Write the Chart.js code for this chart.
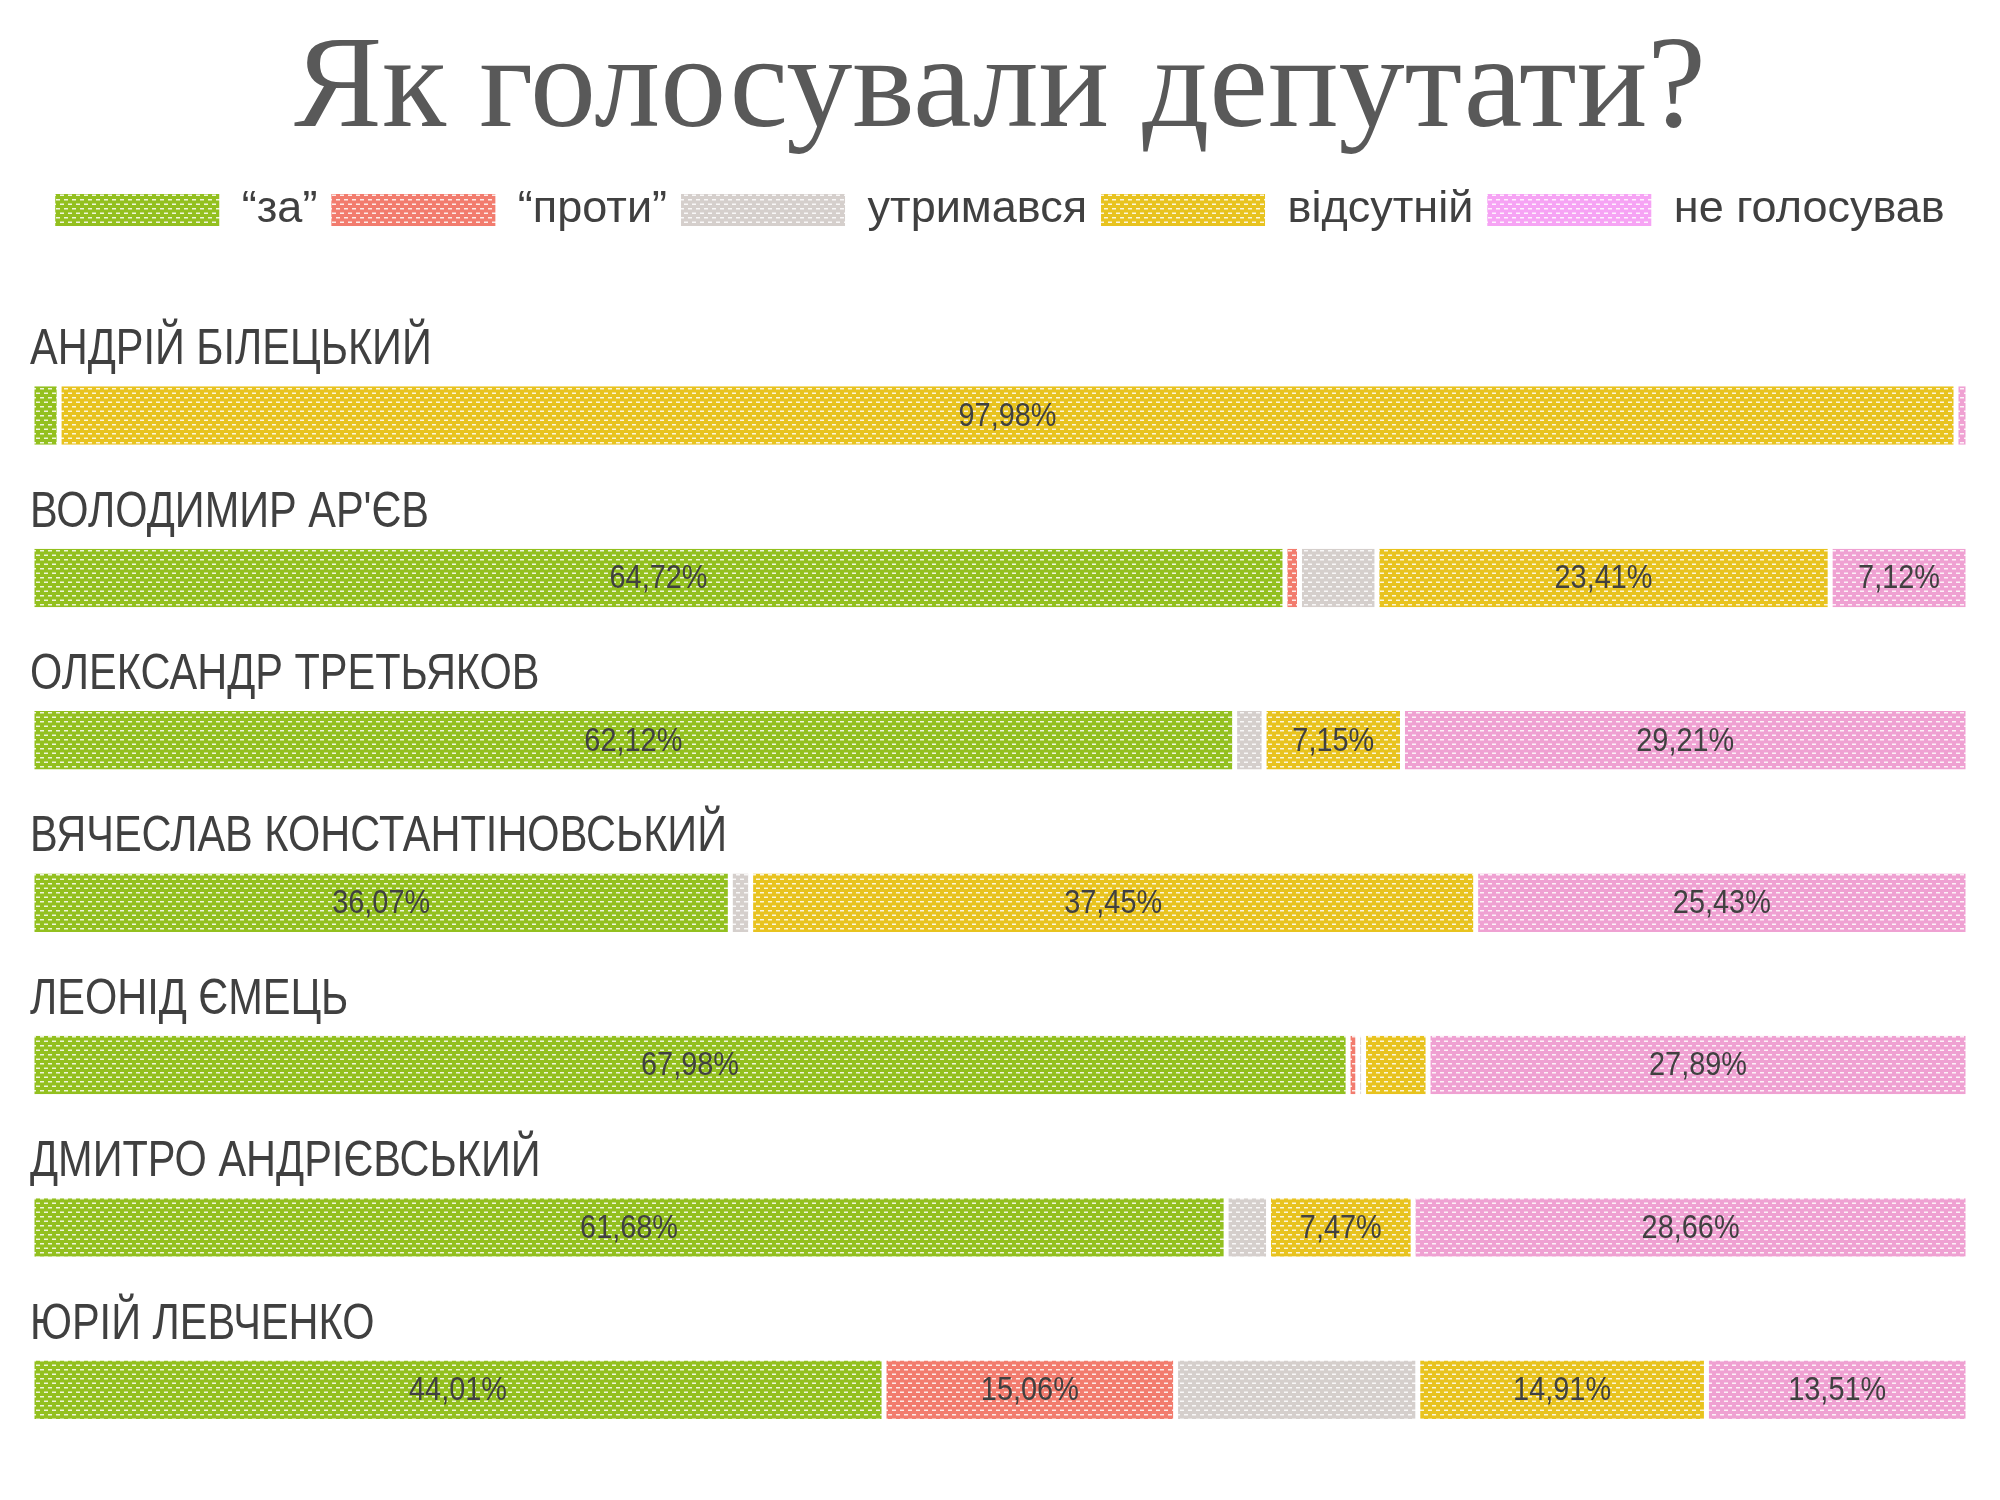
<!DOCTYPE html>
<html>
<head>
<meta charset="utf-8">
<script src="https://cdn.jsdelivr.net/npm/chart.js@4"></script>
<style>
  html, body { margin: 0; padding: 0; background: #fff; }
  #wrap { width: 2000px; height: 1500px; }
</style>
</head>
<body>
<div id="wrap"><canvas id="chart"></canvas></div>
<script>
'use strict';

// deputies, top to bottom
const deputies = ['АНДРІЙ БІЛЕЦЬКИЙ', "ВОЛОДИМИР АР'ЄВ", 'ОЛЕКСАНДР ТРЕТЬЯКОВ',
  'ВЯЧЕСЛАВ КОНСТАНТІНОВСЬКИЙ', 'ЛЕОНІД ЄМЕЦЬ', 'ДМИТРО АНДРІЄВСЬКИЙ', 'ЮРІЙ ЛЕВЧЕНКО'];

// share of votes, %
const votedFor     = [1.40, 64.72, 62.12, 36.07, 67.98, 61.68, 44.01];
const votedAgainst = [0, 0.75, 0, 0, 0.50, 0, 15.06];
const abstained    = [0, 4.00, 1.52, 1.05, 0.30, 2.19, 12.51];
const absent       = [97.98, 23.41, 7.15, 37.45, 3.33, 7.47, 14.91];
const notVoted     = [0.62, 7.12, 29.21, 25.43, 27.89, 28.66, 13.51];

const seriesNames = ['“за”', '“проти”', 'утримався', 'відсутній', 'не голосував'];

const SANS = '"Liberation Sans", Arial, sans-serif';

const canvasEl = document.getElementById('chart');
const drawingContext = canvasEl.getContext('2d');

// dotted fill like the original slides
function makePattern(color) {
  const tile = document.createElement('canvas');
  tile.width = 8;
  tile.height = 9;
  const g = tile.getContext('2d');
  g.fillStyle = color;
  g.fillRect(0, 0, 8, 9);
  g.fillStyle = 'rgba(255,255,255,0.85)';
  g.fillRect(0, 1, 4, 1.5);
  g.fillRect(4, 5.5, 4, 1.5);
  return drawingContext.createPattern(tile, 'repeat');
}

const barColors = ['#93c01f', '#f27c6e', '#d5cfcc', '#e8c31f', '#efa1d2'];
const legendColors = ['#93c01f', '#f27c6e', '#d5cfcc', '#e8c31f', '#f6a3f4'];
const legendFills = legendColors.map(makePattern);

// no narrow face installed, so squeeze the regular one
function narrowText(ctx, text, x, y, squeeze) {
  ctx.save();
  ctx.translate(x, y);
  ctx.scale(squeeze, 1);
  ctx.fillText(text, 0, 0);
  ctx.restore();
}

// percent numbers in the middle of the segments
const valueLabels = {
  id: 'valueLabels',
  afterDatasetsDraw(chart) {
    const ctx = chart.ctx;
    ctx.save();
    ctx.font = '34px ' + SANS;
    ctx.fillStyle = '#404040';
    ctx.textAlign = 'center';
    ctx.textBaseline = 'middle';
    chart.data.datasets.forEach((ds, di) => {
      if (di === 2) return; // no numbers on "утримався"
      chart.getDatasetMeta(di).data.forEach((bar, i) => {
        const v = ds.data[i];
        if (v < 5) return;
        const p = bar.getProps(['x', 'base', 'y'], true);
        narrowText(ctx, v.toFixed(2).replace('.', ',') + '%', (p.x + p.base) / 2, p.y + 1, 0.85);
      });
    });
    ctx.restore();
  }
};

// deputy names sit above each bar
const nameLabels = {
  id: 'nameLabels',
  afterDatasetsDraw(chart) {
    const ctx = chart.ctx;
    const meta = chart.getDatasetMeta(0);
    ctx.save();
    ctx.font = '50px ' + SANS;
    ctx.fillStyle = '#404040';
    ctx.textAlign = 'left';
    ctx.textBaseline = 'alphabetic';
    deputies.forEach((n, i) => {
      const bar = meta.data[i];
      narrowText(ctx, n, 30, bar.y - bar.height / 2 - 22, 0.83);
    });
    ctx.restore();
  }
};

// extra room under the legend
const legendGap = {
  id: 'legendGap',
  beforeInit(chart) {
    const fit = chart.legend.fit;
    chart.legend.fit = function () {
      fit.bind(chart.legend)();
      this.height += 92;
    };
  }
};

const allSeries = [votedFor, votedAgainst, abstained, absent, notVoted];

let chartObj = new Chart(drawingContext, {
  type: 'bar',
  data: {
    labels: deputies,
    datasets: allSeries.map((vals, k) => ({
      label: seriesNames[k],
      data: vals,
      backgroundColor: makePattern(barColors[k]),
      borderColor: '#ffffff',
      borderWidth: { left: 2.5, right: 2.5, top: 0, bottom: 0 },
      borderSkipped: false,
      barPercentage: 0.36,
      categoryPercentage: 1
    }))
  },
  options: {
    indexAxis: 'y',
    responsive: true,
    maintainAspectRatio: false,
    animation: false,
    layout: { padding: { top: 12, left: 32, right: 32, bottom: 29 } },
    scales: {
      x: { stacked: true, min: 0, max: 100, display: false },
      y: { stacked: true, display: false }
    },
    plugins: {
      tooltip: { enabled: false },
      title: {
        display: true,
        text: 'Як голосували депутати?',
        color: '#595959',
        font: { family: '"Liberation Serif", serif', size: 132, weight: 'normal' },
        padding: { top: 0, bottom: 3 }
      },
      legend: {
        display: true,
        labels: {
          boxWidth: 164,
          boxHeight: 32,
          padding: 14,
          color: '#404040',
          font: { family: SANS, size: 45 },
          generateLabels(chart) {
            return chart.data.datasets.map((ds, k) => ({
              text: ds.label,
              fillStyle: legendFills[k],
              strokeStyle: '#ffffff',
              lineWidth: 0,
              fontColor: '#404040',
              hidden: false,
              datasetIndex: k
            }));
          }
        }
      }
    }
  },
  plugins: [legendGap, valueLabels, nameLabels]
});
</script>
</body>
</html>
